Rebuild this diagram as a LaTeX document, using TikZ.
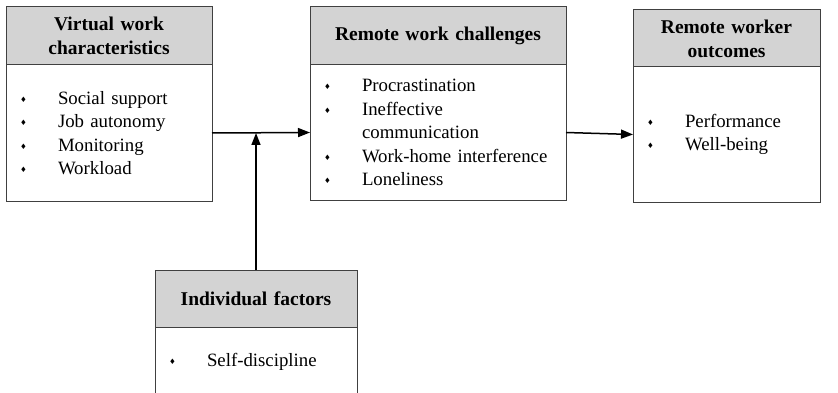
\documentclass[tikz,border=0pt]{standalone}
\usepackage{fontspec}
\setmainfont{Liberation Serif}
\newfontfamily\symfont{DejaVu Sans}
\usetikzlibrary{positioning,arrows.meta}
\definecolor{headgray}{RGB}{211,211,211}
\newcommand{\bul}{\makebox[38pt][l]{\raisebox{2pt}{\symfont\fontsize{7.5}{7.5}\selectfont ♦}}}
\newcommand{\gap}{\makebox[38pt]{}}
\tikzset{
  head/.style={draw=black!75,line width=1pt,fill=headgray,font=\fontsize{19.5}{24}\selectfont\bfseries,
    align=center,minimum height=58pt,inner xsep=5pt,outer sep=0pt,anchor=north west},
  body/.style={draw=black!75,line width=1pt,font=\fontsize{18.8}{23.5}\selectfont,
    align=left,minimum height=135pt,inner xsep=14pt,outer sep=0pt},
  arr/.style={line width=1.5pt,-{Triangle[length=12pt,width=9pt]}}
}
\begin{document}
\begin{tikzpicture}[x=1pt,y=-1pt]
\clip (0,0) rectangle (838,393);
\node[head,text width=196pt] (vw) at (6,7) {Virtual work\\characteristics};
\node[body,text width=178pt,minimum height=136pt,below=0pt of vw] (vwb) {\bul Social support\\\bul Job autonomy\\\bul Monitoring\\\bul Workload};
\node[head,text width=246pt] (rw) at (310,7) {Remote work challenges};
\node[body,text width=228pt,below=0pt of rw] (rwb) {\bul Procrastination\\\bul Ineffective\\\gap communication\\\bul \mbox{Work-home interference}\\\bul Loneliness};
\node[head,text width=177pt,minimum height=57pt] (ro) at (633,10) {Remote worker\\outcomes};
\node[body,text width=159pt,below=0pt of ro] (rob) {\bul Performance\\\bul Well-being};
\node[head,text width=192pt,minimum height=57pt] (if) at (155,270) {Individual factors};
\node[body,text width=174pt,minimum height=70pt,below=0pt of if] (ifb) {\bul Self-discipline};
\coordinate (J) at (vwb.east -| if.north);
\draw[arr] (vwb.east) -- (rwb.west);
\draw[arr] (if.north) -- (J);
\draw[arr] (rwb.east) -- (rob.west);
\end{tikzpicture}
\end{document}
